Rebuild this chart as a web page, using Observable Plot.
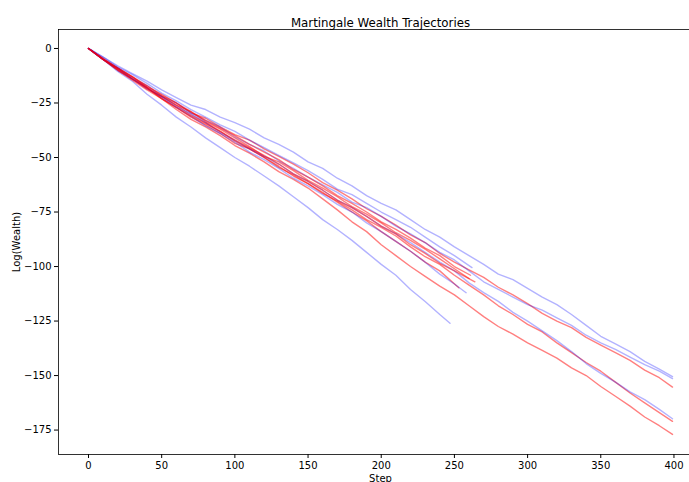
<!DOCTYPE html>
<html>
<head>
<meta charset="utf-8">
<script src="https://cdn.jsdelivr.net/npm/d3@7"></script>
<script src="https://cdn.jsdelivr.net/npm/@observablehq/plot@0.6"></script>
<style>
  html, body { margin: 0; padding: 0; background: #fff; overflow: hidden; }
  #chart svg { display: block; overflow: hidden; }
</style>
</head>
<body>
<div id="chart"></div>
<script>
// ---- data ----
const title = "Martingale Wealth Trajectories";
const xLabel = "Step";
const yLabel = "Log(Wealth)";
const xTicks = [0, 50, 100, 150, 200, 250, 300, 350, 400];
const yTicks = [0, -25, -50, -75, -100, -125, -150, -175];

const stepsFull = [0,10,20,30,40,50,60,70,80,90,100,110,120,130,140,150,160,170,180,190,200,210,220,230,240,250,260,270,280,290,300,310,320,330,340,350,360,370,380,390,399];
const stepsB4 = [0,10,20,30,40,50,60,70,80,90,100,110,120,130,140,150,160,170,180,190,200,210,220,230,240,247];
const stepsB5 = [0,10,20,30,40,50,60,70,80,90,100,110,120,130,140,150,160,170,180,190,200,210,220,230,240,250,262];
const stepsB6 = [0,10,20,30,40,50,60,70,80,90,100,110,120,130,140,150,160,170,180,190,200,210,220,230,240,250,258];
const stepsR4 = [0,10,20,30,40,50,60,70,80,90,100,110,120,130,140,150,160,170,180,190,200,210,220,230,240,253];
const stepsR5 = [0,10,20,30,40,50,60,70,80,90,100,110,120,130,140,150,160,170,180,190,200,210,220,230,240,250,260];
const stepsR6 = [0,10,20,30,40,50,60,70,80,90,100,110,120,130,140,150,160,170,180,190,200,210,220,230,240,250,261];
const stepsR7 = [0,10,20,30,40,50,60,70,80,90,100,110,120,130,140,150,160,170,180,190,200,210,220,230,240,250,264];

const blue1 = [0,-4,-8,-11.5,-15,-19,-22.5,-26,-28,-31.5,-34,-37,-41,-44,-47.5,-52,-55,-59.5,-63,-67.5,-71,-74,-78.5,-83,-86.5,-91,-95,-99,-103.5,-106,-110,-114,-117.5,-122,-127,-132,-135.5,-139,-143.5,-147,-150.5];
const blue2 = [0,-5,-9,-13.5,-17,-22,-25,-29.5,-33,-36,-40.5,-44,-47,-51.5,-55,-59,-62.5,-66,-70.5,-73,-77,-81.5,-85,-89,-93.5,-97,-102,-107,-110.5,-114,-117.5,-120,-123.5,-127,-131.5,-135,-138,-141.5,-145,-148,-151.4];
const blue3 = [0,-5,-10,-14,-18.5,-22,-26.5,-30,-34,-38.5,-42,-46,-49.5,-53,-57.5,-61,-65,-69.5,-73,-77,-81.5,-85,-89,-93.5,-98,-102,-107.5,-112,-116,-121,-125,-129.5,-134,-139,-144.5,-149,-153,-157.5,-161,-165.5,-169.8];
const blue4 = [0,-5,-10.5,-15,-21,-26,-31.5,-36,-41,-45.5,-50,-54,-58.5,-63,-68,-73,-78.5,-83,-88,-93.5,-99,-104,-110.5,-116,-122,-126];
const blue5 = [0,-4,-8.5,-12,-16,-20.5,-24,-28,-31.5,-35,-38,-42,-45.5,-49,-52.5,-56,-60,-64.5,-67,-71,-75,-78.5,-82,-86.5,-91,-95,-100.5];
const blue6 = [0,-5,-9,-14,-18,-22.5,-27,-31,-35.5,-39,-43,-47.5,-51,-55,-59.5,-63,-67,-71.5,-75,-80,-84,-88.5,-93,-98,-103.5,-108,-112];
const red1 = [0,-5,-9,-13,-17.5,-21,-25,-29.5,-32,-36,-39.5,-42,-46,-49.5,-53,-57,-61.5,-65,-69,-73.5,-77,-81,-85.5,-89,-94,-98,-101.5,-105,-109.5,-113,-117,-121.5,-125,-128,-132.5,-136,-139.5,-143,-147.5,-151,-155.3];
const red2 = [0,-5,-9.5,-14,-18,-23,-27,-31.5,-35,-39,-43.5,-46,-50,-54.5,-58,-62,-66.5,-70,-74,-78.5,-82,-86,-91,-95.5,-99,-104,-108.5,-113,-118,-122,-126.5,-130,-135,-139.5,-144,-148,-153,-158,-162.5,-167,-171];
const red3 = [0,-5,-10,-14.5,-19,-23,-28,-32.5,-36,-40,-44.5,-48,-52,-56.5,-60,-64,-69,-74,-79.5,-84,-90,-95,-100,-104.5,-109,-113,-118,-123,-127.5,-131,-135,-138.5,-142,-146.5,-150,-155,-159.5,-164,-169,-173,-177];
const red4 = [0,-5,-10,-14,-18.5,-22,-26,-30.5,-34,-38,-42.5,-46,-50,-54,-58.5,-62,-66,-70.5,-75,-79,-84,-88.5,-93,-98,-102,-109.7];
const red5 = [0,-4.5,-9,-13,-17,-21.5,-25,-29,-33.5,-37,-41,-45,-49.5,-52,-56,-60.5,-64,-68,-72.5,-76,-80,-84.5,-88,-92,-96.5,-101,-105.5];
const red6 = [0,-5,-9,-13,-18,-22,-26,-29,-33,-36.5,-40,-44,-47.5,-51,-55.5,-59,-63,-67.5,-71,-75,-79.5,-83,-87,-91.5,-95,-100,-104];
const red7 = [0,-5,-9.5,-14,-18,-23,-27,-31,-34.5,-38,-42,-45.5,-49,-53,-57.5,-61,-65,-69.5,-73,-77,-81.5,-85,-90,-94,-98.5,-102,-107];

// drawing order and colour group of each trajectory
const series = [
  {id: "b1", group: "blue", steps: stepsFull, values: blue1},
  {id: "r1", group: "red", steps: stepsFull, values: red1},
  {id: "b4", group: "blue", steps: stepsB4, values: blue4},
  {id: "r4", group: "red", steps: stepsR4, values: red4},
  {id: "b2", group: "blue", steps: stepsFull, values: blue2},
  {id: "r2", group: "red", steps: stepsFull, values: red2},
  {id: "b5", group: "blue", steps: stepsB5, values: blue5},
  {id: "r5", group: "red", steps: stepsR5, values: red5},
  {id: "b3", group: "blue", steps: stepsFull, values: blue3},
  {id: "r3", group: "red", steps: stepsFull, values: red3},
  {id: "b6", group: "blue", steps: stepsB6, values: blue6},
  {id: "r6", group: "red", steps: stepsR6, values: red6},
  {id: "r7", group: "red", steps: stepsR7, values: red7}
];

const rows = series.flatMap(s => s.steps.map((st, i) => ({id: s.id, group: s.group, step: st, value: s.values[i]})));

const font = "DejaVu Sans, sans-serif";

const chart = Plot.plot({
  width: 689,
  height: 482,
  marginLeft: 58,
  marginRight: -13,
  marginTop: 29,
  marginBottom: 28,
  style: {fontFamily: font, fontSize: "10px", color: "#000", background: "#fff"},
  x: {domain: [-20.5, 419.5]},
  y: {domain: [-186.2, 8.7]},
  marks: [
    Plot.line(rows, {x: "step", y: "value", z: "id",
      stroke: d => d.group === "blue" ? "#0000ff" : "#ff0000",
      strokeOpacity: d => d.group === "blue" ? 0.3 : 0.5,
      strokeWidth: 1.4, strokeLinejoin: "round", curve: "linear"}),
    Plot.frame({stroke: "#000", strokeWidth: 0.8}),
    Plot.axisX(xTicks, {tickSize: 4, tickPadding: 3, fontSize: 10, label: xLabel, labelAnchor: "center", labelOffset: 27, labelArrow: "none"}),
    Plot.axisY(yTicks, {tickSize: 4, tickPadding: 3, fontSize: 10, label: yLabel, labelAnchor: "center", labelOffset: 46, labelArrow: "none"}),
    Plot.text([title], {frameAnchor: "top", dy: -11, fontSize: 11.8, fill: "#000"})
  ]
});
document.getElementById("chart").appendChild(chart);
</script>
</body>
</html>
